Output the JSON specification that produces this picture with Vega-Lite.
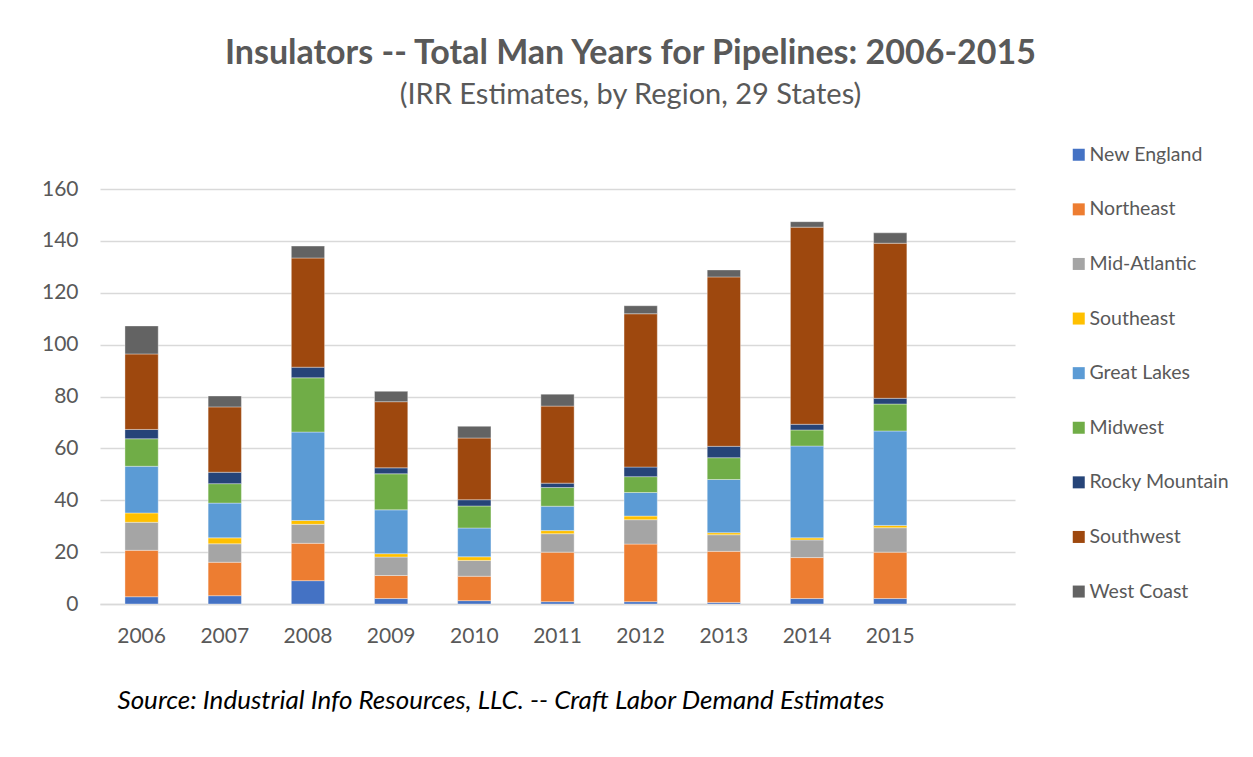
{
  "$schema": "https://vega.github.io/schema/vega-lite/v6.json",
  "autosize": "none",
  "width": 915,
  "height": 415,
  "padding": {"left": 100, "top": 189, "right": 238, "bottom": 153},
  "background": "white",
  "title": {
    "text": "Insulators -- Total Man Years for Pipelines: 2006-2015",
    "subtitle": "(IRR Estimates, by Region, 29 States)",
    "anchor": "middle",
    "frame": "group",
    "dx": 73,
    "offset": 35,
    "font": "Lato",
    "fontSize": 34,
    "fontWeight": "bold",
    "color": "#595959",
    "subtitleFont": "Lato",
    "subtitleFontSize": 29,
    "subtitleColor": "#595959",
    "subtitlePadding": 10
  },
  "datasets": {
    "regions": [
      {"region": "New England", "rank": 1},
      {"region": "Northeast", "rank": 2},
      {"region": "Mid-Atlantic", "rank": 3},
      {"region": "Southeast", "rank": 4},
      {"region": "Great Lakes", "rank": 5},
      {"region": "Midwest", "rank": 6},
      {"region": "Rocky Mountain", "rank": 7},
      {"region": "Southwest", "rank": 8},
      {"region": "West Coast", "rank": 9}
    ]
  },
  "data": {
    "values": [
      {"year": "2006", "region": "New England", "value": 2.8},
      {"year": "2006", "region": "Northeast", "value": 17.9},
      {"year": "2006", "region": "Mid-Atlantic", "value": 10.8},
      {"year": "2006", "region": "Southeast", "value": 3.6},
      {"year": "2006", "region": "Great Lakes", "value": 18.0},
      {"year": "2006", "region": "Midwest", "value": 10.6},
      {"year": "2006", "region": "Rocky Mountain", "value": 3.6},
      {"year": "2006", "region": "Southwest", "value": 29.1},
      {"year": "2006", "region": "West Coast", "value": 10.8},
      {"year": "2007", "region": "New England", "value": 3.2},
      {"year": "2007", "region": "Northeast", "value": 12.9},
      {"year": "2007", "region": "Mid-Atlantic", "value": 7.1},
      {"year": "2007", "region": "Southeast", "value": 2.3},
      {"year": "2007", "region": "Great Lakes", "value": 13.4},
      {"year": "2007", "region": "Midwest", "value": 7.5},
      {"year": "2007", "region": "Rocky Mountain", "value": 4.4},
      {"year": "2007", "region": "Southwest", "value": 25.2},
      {"year": "2007", "region": "West Coast", "value": 4.2},
      {"year": "2008", "region": "New England", "value": 9.0},
      {"year": "2008", "region": "Northeast", "value": 14.4},
      {"year": "2008", "region": "Mid-Atlantic", "value": 7.3},
      {"year": "2008", "region": "Southeast", "value": 1.5},
      {"year": "2008", "region": "Great Lakes", "value": 34.1},
      {"year": "2008", "region": "Midwest", "value": 20.9},
      {"year": "2008", "region": "Rocky Mountain", "value": 4.1},
      {"year": "2008", "region": "Southwest", "value": 42.1},
      {"year": "2008", "region": "West Coast", "value": 4.6},
      {"year": "2009", "region": "New England", "value": 2.1},
      {"year": "2009", "region": "Northeast", "value": 8.9},
      {"year": "2009", "region": "Mid-Atlantic", "value": 7.1},
      {"year": "2009", "region": "Southeast", "value": 1.3},
      {"year": "2009", "region": "Great Lakes", "value": 16.9},
      {"year": "2009", "region": "Midwest", "value": 13.9},
      {"year": "2009", "region": "Rocky Mountain", "value": 2.3},
      {"year": "2009", "region": "Southwest", "value": 25.5},
      {"year": "2009", "region": "West Coast", "value": 4.0},
      {"year": "2010", "region": "New England", "value": 1.3},
      {"year": "2010", "region": "Northeast", "value": 9.4},
      {"year": "2010", "region": "Mid-Atlantic", "value": 6.1},
      {"year": "2010", "region": "Southeast", "value": 1.4},
      {"year": "2010", "region": "Great Lakes", "value": 11.1},
      {"year": "2010", "region": "Midwest", "value": 8.5},
      {"year": "2010", "region": "Rocky Mountain", "value": 2.4},
      {"year": "2010", "region": "Southwest", "value": 23.8},
      {"year": "2010", "region": "West Coast", "value": 4.5},
      {"year": "2011", "region": "New England", "value": 0.9},
      {"year": "2011", "region": "Northeast", "value": 19.1},
      {"year": "2011", "region": "Mid-Atlantic", "value": 7.1},
      {"year": "2011", "region": "Southeast", "value": 1.2},
      {"year": "2011", "region": "Great Lakes", "value": 9.4},
      {"year": "2011", "region": "Midwest", "value": 7.2},
      {"year": "2011", "region": "Rocky Mountain", "value": 1.7},
      {"year": "2011", "region": "Southwest", "value": 29.7},
      {"year": "2011", "region": "West Coast", "value": 4.6},
      {"year": "2012", "region": "New England", "value": 0.9},
      {"year": "2012", "region": "Northeast", "value": 22.2},
      {"year": "2012", "region": "Mid-Atlantic", "value": 9.4},
      {"year": "2012", "region": "Southeast", "value": 1.4},
      {"year": "2012", "region": "Great Lakes", "value": 9.1},
      {"year": "2012", "region": "Midwest", "value": 6.1},
      {"year": "2012", "region": "Rocky Mountain", "value": 3.7},
      {"year": "2012", "region": "Southwest", "value": 59.1},
      {"year": "2012", "region": "West Coast", "value": 3.1},
      {"year": "2013", "region": "New England", "value": 0.6},
      {"year": "2013", "region": "Northeast", "value": 19.7},
      {"year": "2013", "region": "Mid-Atlantic", "value": 6.4},
      {"year": "2013", "region": "Southeast", "value": 0.8},
      {"year": "2013", "region": "Great Lakes", "value": 20.5},
      {"year": "2013", "region": "Midwest", "value": 8.4},
      {"year": "2013", "region": "Rocky Mountain", "value": 4.4},
      {"year": "2013", "region": "Southwest", "value": 65.3},
      {"year": "2013", "region": "West Coast", "value": 2.7},
      {"year": "2014", "region": "New England", "value": 2.1},
      {"year": "2014", "region": "Northeast", "value": 15.8},
      {"year": "2014", "region": "Mid-Atlantic", "value": 6.8},
      {"year": "2014", "region": "Southeast", "value": 0.8},
      {"year": "2014", "region": "Great Lakes", "value": 35.4},
      {"year": "2014", "region": "Midwest", "value": 6.2},
      {"year": "2014", "region": "Rocky Mountain", "value": 2.2},
      {"year": "2014", "region": "Southwest", "value": 76.0},
      {"year": "2014", "region": "West Coast", "value": 2.1},
      {"year": "2015", "region": "New England", "value": 2.1},
      {"year": "2015", "region": "Northeast", "value": 17.9},
      {"year": "2015", "region": "Mid-Atlantic", "value": 9.4},
      {"year": "2015", "region": "Southeast", "value": 0.9},
      {"year": "2015", "region": "Great Lakes", "value": 36.4},
      {"year": "2015", "region": "Midwest", "value": 10.4},
      {"year": "2015", "region": "Rocky Mountain", "value": 2.2},
      {"year": "2015", "region": "Southwest", "value": 59.8},
      {"year": "2015", "region": "West Coast", "value": 4.0}
    ]
  },
  "transform": [
    {"lookup": "region", "from": {"data": {"name": "regions"}, "key": "region", "fields": ["rank"]}}
  ],
  "mark": {"type": "bar", "stroke": "#ffffff", "strokeWidth": 0.6, "strokeOpacity": 0.6},
  "encoding": {
    "x": {
      "field": "year",
      "type": "ordinal",
      "scale": {
        "domain": ["2006", "2007", "2008", "2009", "2010", "2011", "2012", "2013", "2014", "2015", ""],
        "paddingInner": 0.6,
        "paddingOuter": 0.3
      },
      "axis": {
        "title": "Source: Industrial Info Resources, LLC.  -- Craft Labor Demand Estimates",
        "titleFont": "Lato",
        "titleFontSize": 26,
        "titleFontStyle": "italic",
        "titleFontWeight": "normal",
        "titleColor": "#000000",
        "titleAnchor": "start",
        "titleAlign": "left",
        "titleX": 17,
        "titleY": 96,
        "titleBaseline": "middle",
        "labelAngle": 0,
        "labelFont": "Lato",
        "labelFontSize": 21,
        "labelColor": "#595959",
        "labelPadding": 21,
        "ticks": false,
        "domainColor": "#d9d9d9",
        "domainWidth": 1.5
      }
    },
    "y": {
      "field": "value",
      "type": "quantitative",
      "stack": "zero",
      "scale": {"domain": [0, 160], "nice": false},
      "axis": {
        "title": null,
        "values": [0, 20, 40, 60, 80, 100, 120, 140, 160],
        "domain": false,
        "ticks": false,
        "labelFont": "Lato",
        "labelFontSize": 21,
        "labelColor": "#595959",
        "labelPadding": 22,
        "gridColor": "#d9d9d9",
        "gridWidth": 1.5
      }
    },
    "order": {"field": "rank", "type": "quantitative", "sort": "ascending"},
    "color": {
      "field": "region",
      "type": "nominal",
      "scale": {
        "domain": ["New England", "Northeast", "Mid-Atlantic", "Southeast", "Great Lakes", "Midwest", "Rocky Mountain", "Southwest", "West Coast"],
        "range": ["#4472C4", "#ED7D31", "#A5A5A5", "#FFC000", "#5B9BD5", "#70AD47", "#264478", "#9E480E", "#636363"]
      },
      "legend": {
        "title": null,
        "orient": "none",
        "legendX": 969,
        "legendY": -44,
        "padding": 0,
        "symbolType": "square",
        "symbolSize": 144,
        "symbolStrokeWidth": 0,
        "labelFont": "Lato",
        "labelFontSize": 19.5,
        "labelColor": "#595959",
        "labelOffset": 1,
        "rowPadding": 33.6
      }
    }
  },
  "config": {
    "view": {"stroke": null}
  }
}
